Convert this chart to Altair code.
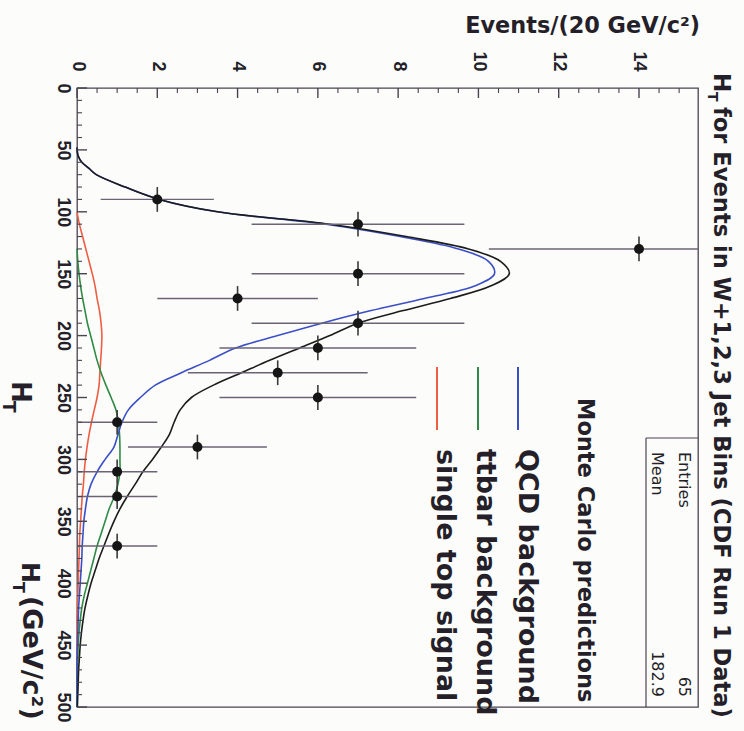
import altair as alt
import pandas as pd

# ---------------- data ----------------
# measured H_T bins (GeV/c^2): centre, low edge, high edge
bin_ht = [90, 110, 130, 150, 170, 190, 210, 230, 250, 270, 290, 310, 330, 370]
bin_ht_lo = [80, 100, 120, 140, 160, 180, 200, 220, 240, 260, 280, 300, 320, 360]
bin_ht_hi = [100, 120, 140, 160, 180, 200, 220, 240, 260, 280, 300, 320, 340, 380]
bin_n = [2, 7, 14, 7, 4, 7, 6, 5, 6, 1, 3, 1, 1, 1]
bin_err = [1.41, 2.65, 3.74, 2.65, 2.0, 2.65, 2.45, 2.24, 2.45, 1.0, 1.73, 1.0, 1.0, 1.0]

# Monte Carlo curves
total_ht = [48, 55, 60, 65, 70, 80, 90, 100, 110, 120, 130, 140, 150, 160, 170, 180,
            190, 200, 210, 220, 230, 240, 250, 260, 270, 280, 290, 300, 310, 320, 330,
            340, 350, 360, 370, 380, 390, 400, 410, 420, 430, 440, 450, 460, 470, 480,
            490, 500]
total_n = [0, 0.03, 0.12, 0.3, 0.48, 1.2, 2.05, 3.5, 6.3, 8.2, 9.75, 10.55, 10.77,
           10.3, 9.3, 8.1, 7.0, 6.3, 5.55, 4.8, 4.1, 3.4, 2.85, 2.57, 2.42, 2.3, 2.1,
           1.88, 1.64, 1.45, 1.25, 1.07, 0.92, 0.79, 0.67, 0.55, 0.45, 0.35, 0.27, 0.2,
           0.15, 0.11, 0.08, 0.06, 0.04, 0.03, 0.02, 0.01]
qcd_ht = total_ht
qcd_n = [0, 0.03, 0.12, 0.3, 0.48, 1.2, 2.05, 3.5, 6.2, 8.05, 9.5, 10.25, 10.4, 9.9,
         8.65, 7.3, 6.1, 5.0, 3.95, 3.3, 2.6, 1.95, 1.58, 1.28, 1.12, 1.02, 0.92, 0.7,
         0.5, 0.35, 0.26, 0.21, 0.17, 0.15, 0.13, 0.12, 0.1, 0.08, 0.06, 0.04, 0.03,
         0.02, 0.01, 0, 0, 0, 0, 0]
ttbar_ht = [130, 140, 150, 160, 170, 180, 190, 200, 210, 220, 230, 240, 250, 260, 270,
            280, 290, 300, 310, 320, 330, 340, 350, 360, 370, 380, 390, 400, 410, 420,
            430, 440, 450, 460, 470, 480, 490, 500]
ttbar_n = [0, 0.02, 0.05, 0.09, 0.14, 0.2, 0.26, 0.34, 0.42, 0.5, 0.6, 0.72, 0.85,
           0.97, 1.03, 1.06, 1.07, 1.07, 1.07, 1.02, 0.93, 0.8, 0.7, 0.6, 0.5, 0.42,
           0.34, 0.26, 0.18, 0.12, 0.08, 0.05, 0.03, 0.02, 0.01, 0, 0, 0]
stop_ht = [100, 110, 120, 130, 140, 150, 160, 170, 180, 190, 200, 210, 220, 230, 240,
           250, 260, 270, 280, 290, 300, 310, 320, 330, 340, 350, 360, 370, 380, 390,
           400, 410, 420, 430, 440, 450, 460, 470, 480, 490, 500]
stop_n = [0, 0.06, 0.14, 0.22, 0.3, 0.38, 0.45, 0.5, 0.56, 0.6, 0.62, 0.61, 0.59, 0.57,
          0.55, 0.5, 0.43, 0.36, 0.3, 0.25, 0.21, 0.18, 0.16, 0.13, 0.11, 0.09, 0.07,
          0.06, 0.05, 0.04, 0.03, 0.02, 0.01, 0, 0, 0, 0, 0, 0, 0, 0]

events_major = [0, 2, 4, 6, 8, 10, 12, 14]
events_minor = [0.5, 1, 1.5, 2.5, 3, 3.5, 4.5, 5, 5.5, 6.5, 7, 7.5, 8.5, 9, 9.5,
                10.5, 11, 11.5, 12.5, 13, 13.5, 14.5, 15]
ht_major = [0, 50, 100, 150, 200, 250, 300, 350, 400, 450, 500]
ht_minor = [10, 20, 30, 40, 60, 70, 80, 90, 110, 120, 130, 140, 160, 170, 180, 190,
            210, 220, 230, 240, 260, 270, 280, 290, 310, 320, 330, 340, 360, 370, 380,
            390, 410, 420, 430, 440, 460, 470, 480, 490]

# ---------------- style ----------------
W, H = 621, 619
X0, Y0 = 77, 88
X_MAX, Y_MAX = 15.47, 500
BG = "#fcfcfb"
AX = "#4a4350"
TXT = "#241f28"
FT = "DejaVu Sans"
FL = "Liberation Sans"
PX_X = X_MAX / W   # events per pixel
PX_Y = Y_MAX / H   # GeV per pixel

xscale = alt.Scale(domain=[0, X_MAX], nice=False, zero=False)
yscale = alt.Scale(domain=[0, Y_MAX], reverse=True, nice=False, zero=False)
xaxis = alt.Axis(orient="top", values=events_major, title=None, labelAngle=90,
                 labelAlign="right", labelBaseline="middle", labelPadding=17,
                 ticks=False, domain=False, grid=False, labelFont=FL,
                 labelFontSize=18, labelFontWeight="bold", labelColor=TXT,
                 labelFlush=False, labelOverlap=False)
yaxis = alt.Axis(orient="left", values=ht_major, title=None, labelAngle=90,
                 labelAlign="center", labelBaseline="top", labelPadding=6,
                 ticks=False, domain=False, grid=False, labelFont=FL,
                 labelFontSize=18, labelFontWeight="bold", labelColor=TXT,
                 labelFlush=False, labelOverlap=False)


def X(field):
    return alt.X(f"{field}:Q", scale=xscale, axis=xaxis)


def Y(field):
    return alt.Y(f"{field}:Q", scale=yscale, axis=yaxis)


def curve(ht, n, color, width=1.6):
    df = pd.DataFrame({"ht": ht, "n": n})
    return alt.Chart(df).mark_line(color=color, strokeWidth=width,
                                   interpolate="catmull-rom").encode(
        x=X("n"), y=Y("ht"), order=alt.Order("ht:Q"))


def label(text, x, y, size, font=FT, weight="bold", angle=90, align="left",
          baseline="alphabetic", color=TXT):
    return alt.Chart(alt.Data(values=[{"t": text}])).mark_text(
        angle=angle, align=align, baseline=baseline, fontSize=size,
        fontWeight=weight, font=font, color=color).encode(
        text="t:N", x=alt.value(x - X0), y=alt.value(y - Y0))


def pix_rule(x1, y1, x2, y2, color, width):
    return alt.Chart(alt.Data(values=[{"a": 1}])).mark_rule(
        color=color, strokeWidth=width).encode(
        x=alt.value(x1 - X0), x2=alt.value(x2 - X0),
        y=alt.value(y1 - Y0), y2=alt.value(y2 - Y0))


def top_ticks(vals, length_px, width):
    df = pd.DataFrame({"tn": vals, "t0": [0.0] * len(vals),
                       "t1": [length_px * PX_Y] * len(vals)})
    return alt.Chart(df).mark_rule(color=AX, strokeWidth=width).encode(
        x=X("tn"), y=Y("t0"), y2="t1:Q")


def left_ticks(vals, length_px, width):
    df = pd.DataFrame({"th": vals, "s0": [0.0] * len(vals),
                       "s1": [length_px * PX_X] * len(vals)})
    return alt.Chart(df).mark_rule(color=AX, strokeWidth=width).encode(
        y=Y("th"), x=X("s0"), x2="s1:Q")


pts = pd.DataFrame({
    "ht": bin_ht, "n": bin_n,
    "lo": [n - e for n, e in zip(bin_n, bin_err)],
    "hi": [n + e for n, e in zip(bin_n, bin_err)],
    "ht_lo": bin_ht_lo, "ht_hi": bin_ht_hi,
})

layers = []

# curves
layers.append(curve(stop_ht, stop_n, "#ee5e42"))
layers.append(curve(ttbar_ht, ttbar_n, "#2f8a45"))
layers.append(curve(qcd_ht, qcd_n, "#3a4fc6"))
layers.append(curve(total_ht, total_n, "#1c1c1c"))

# data points with error bars
layers.append(alt.Chart(pts).mark_rule(color="#6c6474", strokeWidth=1.4, clip=True).encode(
    x=X("lo"), x2="hi:Q", y=Y("ht")))
layers.append(alt.Chart(pts).mark_rule(color="#3a3a3a", strokeWidth=1.6).encode(
    x=X("n"), y=Y("ht_lo"), y2="ht_hi:Q"))
layers.append(alt.Chart(pts).mark_circle(size=100, color="#151515", opacity=1).encode(
    x=X("n"), y=Y("ht")))

# inward ticks
layers.append(top_ticks(events_major, 10, 1.4))
layers.append(top_ticks(events_minor, 5, 1.1))
layers.append(left_ticks(ht_major, 10, 1.4))
layers.append(left_ticks(ht_minor, 5, 1.1))

# legend
layers.append(pix_rule(518, 367, 518, 430, "#3a4fc6", 2))
layers.append(pix_rule(478, 367, 478, 430, "#2f8a45", 2))
layers.append(pix_rule(437, 367, 437, 430, "#ee5e42", 2))
layers.append(label("Monte Carlo predictions", 578, 398, 22.5))
layers.append(label("QCD background", 519, 449, 27))
layers.append(label("ttbar background", 477, 449, 27))
layers.append(label("single top signal", 437, 449, 27))

# stats box
layers.append(pix_rule(646, 438, 646, 707, AX, 1.2))
layers.append(pix_rule(646, 438, 698, 438, AX, 1.2))
layers.append(label("Entries", 679, 452, 16, weight="normal"))
layers.append(label("65", 679, 697, 16, weight="normal", align="right"))
layers.append(label("Mean", 652, 452, 16, weight="normal"))
layers.append(label("182.9", 652, 697, 16, weight="normal", align="right"))

# titles
layers.append(label("Events/(20 GeV/c²)", 700, 33, 22.4, angle=0, align="right"))
layers.append(label("H", 714, 73, 23))
layers.append(label("T", 708, 92, 14))
layers.append(label("for Events in W+1,2,3 Jet Bins (CDF Run 1 Data)", 714, 107, 22.6))
layers.append(label("H", 12, 381, 26))
layers.append(label("T", 3, 401, 17))
layers.append(label("H", 22, 562, 25))
layers.append(label("T", 13, 582, 16))
layers.append(label("(GeV/c²)", 23, 596, 27))

chart = alt.layer(*layers).properties(
    width=W, height=H, background=BG,
    padding={"left": X0, "top": Y0, "right": 744 - X0 - W, "bottom": 731 - Y0 - H},
    autosize=alt.AutoSizeParams(type="none"),
).configure_view(stroke=AX, strokeWidth=1.3)

chart.save("out.html", embed_options={"renderer": "svg", "actions": False})
